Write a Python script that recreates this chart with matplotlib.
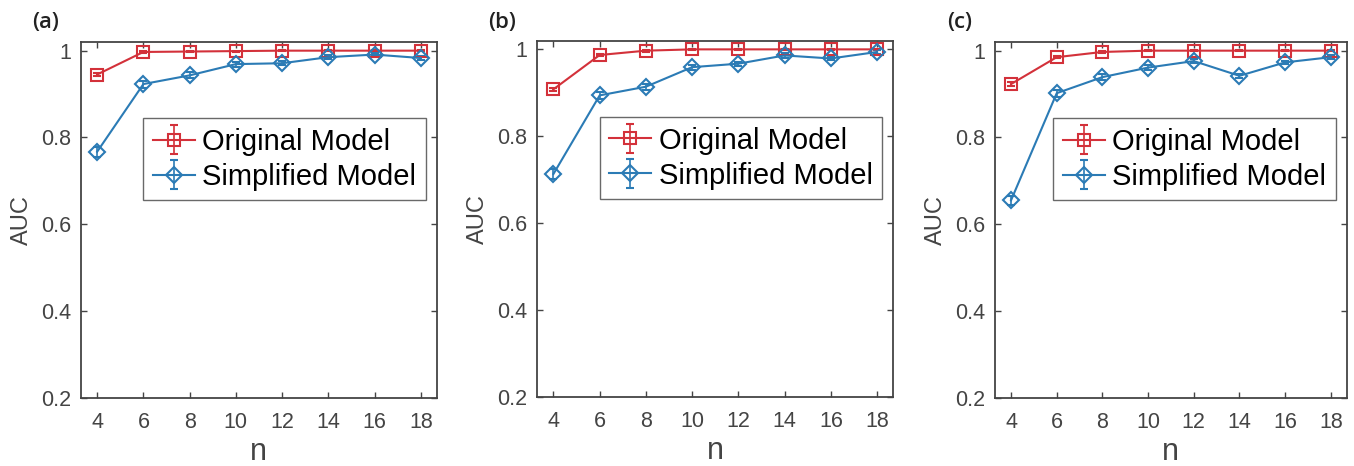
import numpy as np
import matplotlib
matplotlib.use("Agg")
import matplotlib.pyplot as plt

# data
n = [4, 6, 8, 10, 12, 14, 16, 18]

orig_a = [0.945, 0.997, 0.998, 0.999, 1.0, 1.0, 1.0, 1.0]
simp_a = [0.767, 0.923, 0.943, 0.969, 0.971, 0.985, 0.991, 0.983]
orig_b = [0.908, 0.987, 0.997, 1.0, 1.0, 1.0, 1.0, 1.0]
simp_b = [0.713, 0.894, 0.914, 0.959, 0.967, 0.986, 0.979, 0.994]
orig_c = [0.923, 0.985, 0.997, 1.0, 1.0, 1.0, 1.0, 1.0]
simp_c = [0.655, 0.902, 0.939, 0.961, 0.976, 0.942, 0.973, 0.985]

orig_err = [0.004, 0.003, 0.002, 0.001, 0.001, 0.001, 0.001, 0.001]
simp_err = [0.011, 0.008, 0.007, 0.006, 0.005, 0.005, 0.004, 0.004]

panels = ["(a)", "(b)", "(c)"]
orig_all = [orig_a, orig_b, orig_c]
simp_all = [simp_a, simp_b, simp_c]

red = "#d3313a"
blue = "#2b7bb5"
axcol = "#444444"

plt.rcParams["font.family"] = ["Liberation Sans", "DejaVu Sans"]

fig = plt.figure(figsize=(13.54, 4.66), dpi=100)
boxes = [[0.0598, 0.1466, 0.2629, 0.7633],
         [0.3968, 0.1488, 0.2629, 0.7639],
         [0.7349, 0.1466, 0.2598, 0.7633]]

for i in range(3):
    ax = fig.add_axes(boxes[i])
    ax.errorbar(n, orig_all[i], yerr=orig_err, color=red, marker="s", ms=8,
                mfc="none", mec=red, mew=1.5, lw=1.5, capsize=3, elinewidth=1.2,
                label="Original Model")
    ax.errorbar(n, simp_all[i], yerr=simp_err, color=blue, marker="D", ms=8.5,
                mfc="none", mec=blue, mew=1.5, lw=1.5, capsize=3, elinewidth=1.2,
                label="Simplified Model")
    ax.set_xlim(3.3, 18.7)
    ax.set_ylim(0.2, 1.02)
    ax.set_xticks(n)
    ax.set_yticks([0.2, 0.4, 0.6, 0.8, 1.0])
    ax.set_yticklabels(["0.2", "0.4", "0.6", "0.8", "1"])
    ax.tick_params(direction="in", top=True, right=True, labelsize=15.5,
                   colors=axcol, length=4, width=1, pad=7)
    ax.tick_params(axis="x", pad=10)
    for s in ax.spines.values():
        s.set_color(axcol)
        s.set_linewidth(1.3)
    ax.set_xlabel("n", fontsize=22, color=axcol, labelpad=3)
    ax.set_ylabel("AUC", fontsize=17, color=axcol, labelpad=6)
    leg = ax.legend(loc="upper right", bbox_to_anchor=(0.968, 0.785), fontsize=21,
                    frameon=True, fancybox=False, edgecolor=axcol,
                    handlelength=1.45, handletextpad=0.25,
                    borderpad=0.32, labelspacing=0.24, borderaxespad=0)
    leg.get_frame().set_linewidth(1.0)
    fig.text(boxes[i][0] - 0.026, 0.951, panels[i], fontsize=16,
             family=["Open Sans", "DejaVu Sans"], fontweight="semibold",
             ha="center", va="center", color="#222222")

fig.savefig("out.png", dpi=100)
